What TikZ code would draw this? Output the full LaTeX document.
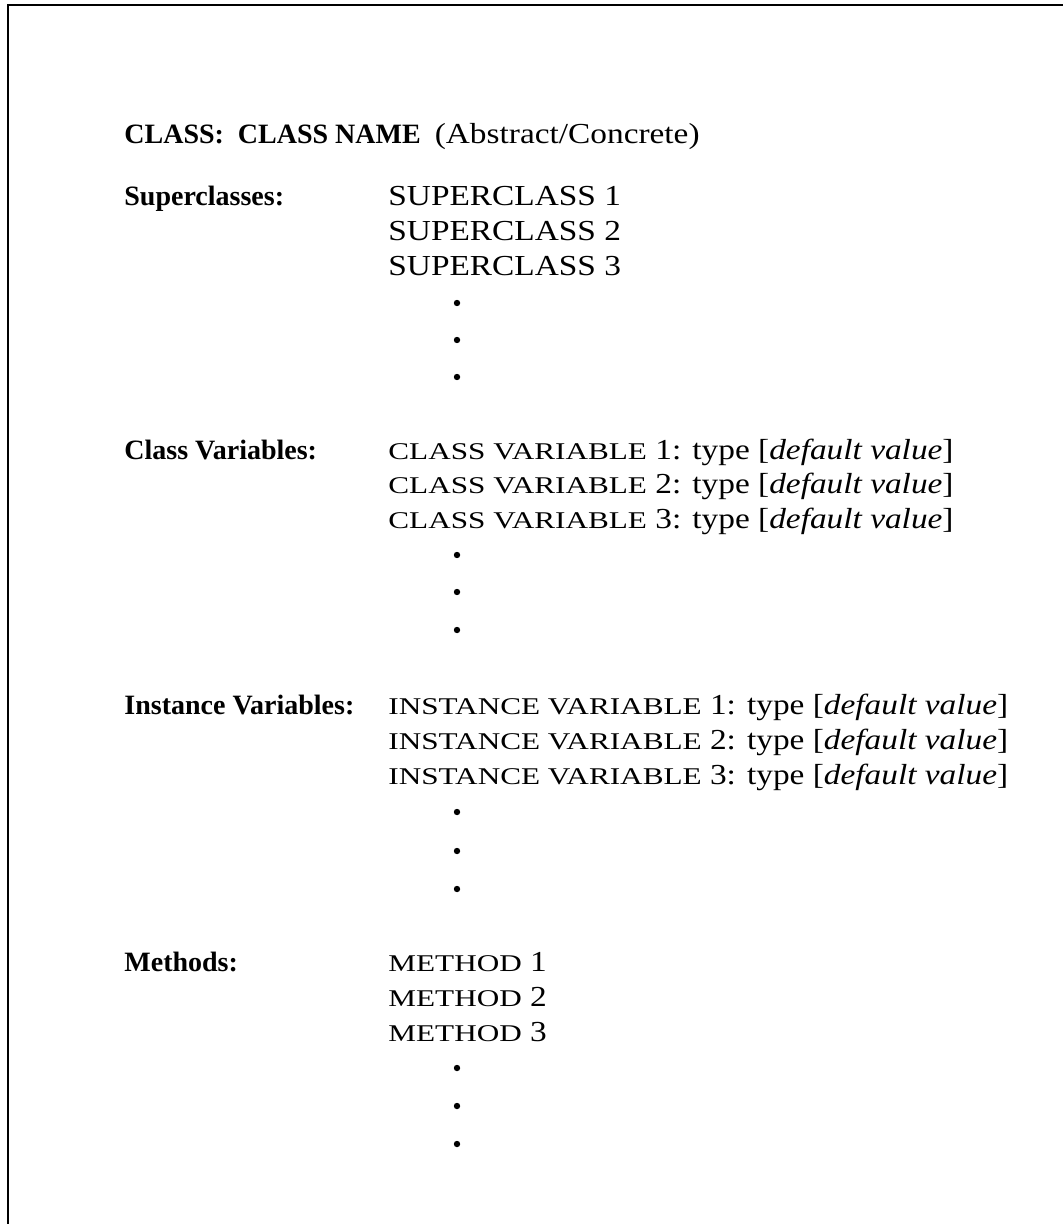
\documentclass[tikz,border=0pt]{standalone}
\usepackage{fontspec}
\setmainfont{Liberation Serif}
\newfontfamily\itmfont{Liberation Serif}[FakeStretch=1.15]
\newfontfamily\scfont{Liberation Serif}[FakeStretch=1.3]
\newcommand{\smc}[1]{{\scfont\fontsize{12pt}{14pt}\selectfont #1}}
\begin{document}
\begin{tikzpicture}[
    x=0.5pt, y=-0.5pt,
    hdr/.style={anchor=base west, inner sep=0pt, font=\fontsize{14pt}{16pt}\selectfont\bfseries},
    itm/.style={anchor=base west, inner sep=0pt, font=\itmfont\fontsize{14.5pt}{16pt}\selectfont},
    dot/.style={circle, fill=black, inner sep=0pt, minimum size=3.2pt},
    frm/.style={line width=0.8pt}
]
\useasboundingbox (0,0) rectangle (1063,1224);
\draw[frm] (8,1224) -- (8,5) -- (1063,5);

\node[hdr] (title) at (124,144) {CLASS:\ \ CLASS NAME\ \ \itmfont\mdseries\fontsize{14.5pt}{16pt}\selectfont(Abstract/Concrete)};

% superclasses
\node[hdr] (hsup) at (124,206) {Superclasses:};
\node[itm] (sup1) at (388,206) {SUPERCLASS 1};
\node[itm] (sup2) at (388,241) {SUPERCLASS 2};
\node[itm] (sup3) at (388,276) {SUPERCLASS 3};
\node[dot] (d1) at (457,303) {};
\node[dot] (d2) at (457,340) {};
\node[dot] (d3) at (457,377) {};

% class variables
\node[hdr] (hcv) at (124,459) {Class Variables:};
\node[itm] (cv1) at (388,459) {\smc{CLASS VARIABLE} 1: type [\textit{default value}]};
\node[itm] (cv2) at (388,493) {\smc{CLASS VARIABLE} 2: type [\textit{default value}]};
\node[itm] (cv3) at (388,528) {\smc{CLASS VARIABLE} 3: type [\textit{default value}]};
\node[dot] (d4) at (457,555) {};
\node[dot] (d5) at (457,592) {};
\node[dot] (d6) at (457,630) {};

% instance variables
\node[hdr] (hiv) at (124,714) {Instance Variables:};
\node[itm] (iv1) at (388,714) {\smc{INSTANCE VARIABLE} 1: type [\textit{default value}]};
\node[itm] (iv2) at (388,749) {\smc{INSTANCE VARIABLE} 2: type [\textit{default value}]};
\node[itm] (iv3) at (388,784) {\smc{INSTANCE VARIABLE} 3: type [\textit{default value}]};
\node[dot] (d7) at (457,812) {};
\node[dot] (d8) at (457,851) {};
\node[dot] (d9) at (457,889) {};

% methods
\node[hdr] (hmeth) at (124,971) {Methods:};
\node[itm] (m1) at (388,971) {\smc{METHOD} 1};
\node[itm] (m2) at (388,1006) {\smc{METHOD} 2};
\node[itm] (m3) at (388,1041) {\smc{METHOD} 3};
\node[dot] (d10) at (457,1068) {};
\node[dot] (d11) at (457,1106) {};
\node[dot] (d12) at (457,1144) {};
\end{tikzpicture}
\end{document}
